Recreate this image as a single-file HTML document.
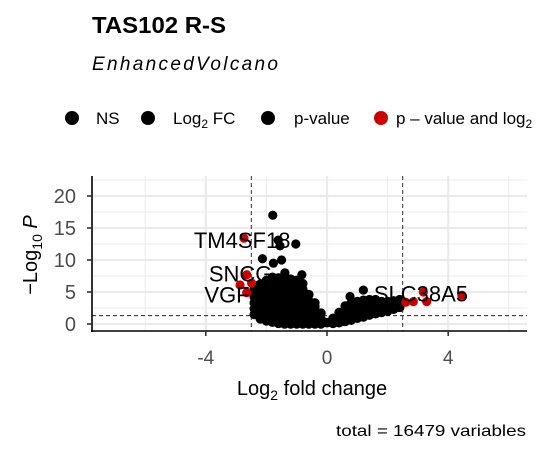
<!DOCTYPE html>
<html><head><meta charset="utf-8"><style>
body{margin:0;background:#fff;}
svg{display:block;font-family:"Liberation Sans",Arial,sans-serif;}
</style></head><body>
<svg id="chart" width="543" height="456" viewBox="0 0 543 456" xmlns="http://www.w3.org/2000/svg">
<text x="92" y="33" font-size="23" font-weight="bold" textLength="134" lengthAdjust="spacingAndGlyphs">TAS102 R-S</text>
<text x="92" y="70" font-size="19" font-style="italic" textLength="186">EnhancedVolcano</text>
<g font-size="17">
 <g><circle cx="72" cy="118" r="7" fill="#000"/><text x="96" y="124">NS</text></g>
 <g><circle cx="148" cy="118" r="7" fill="#000"/><text x="173" y="124">Log<tspan font-size="12" dy="4">2</tspan><tspan dy="-4"> FC</tspan></text></g>
 <g><circle cx="268" cy="118" r="7" fill="#000"/><text x="294" y="124">p-value</text></g>
 <g><circle cx="381" cy="118" r="7" fill="#cd0000"/><text x="396" y="124">p – value and log<tspan font-size="12" dy="4">2</tspan></text></g>
</g>
<g id="grid"></g>
<g id="refs"></g>
<g id="pts"></g>
<g id="labels" font-size="22"></g>
<g id="axes"></g>
<text x="312" y="395" font-size="20" text-anchor="middle">Log<tspan font-size="14" dy="5">2</tspan><tspan dy="-5"> fold change</tspan></text>
<text transform="translate(37,255) rotate(-90)" font-size="20" text-anchor="middle">−Log<tspan font-size="14" dy="5">10</tspan><tspan dy="-5" font-style="italic"> P</tspan></text>
<text x="336" y="436" font-size="16" textLength="190" lengthAdjust="spacingAndGlyphs">total = 16479 variables</text>
</svg>
<script>
const xTicks=[-4,0,4];
const xMinor=[-6,-2,2,6];
const yTicks=[0,5,10,15,20];
const yMinor=[2.5,7.5,12.5,17.5,22.5];
const fcCut=[-2.5,2.5];
const pCut=1.3;
const blobCols=[-2.4,-2.2,-2.0,-1.8,-1.6,-1.4,-1.2,-1.0,-0.8,-0.6,-0.4,-0.2,0,0.2,0.4,0.6,0.8,1.0,1.2,1.4,1.6,1.8,2.0,2.2,2.4];
const blobYs=[
[1.5,2.4,3.3,4.2,5.1,5.5],
[0.8,1.7,2.6,3.5,4.4,5.3,6.2],
[0.5,1.4,2.3,3.2,4.1,5.0,5.9,6.8],
[0.3,1.2,2.1,3.0,3.9,4.8,5.7,6.6,7.3],
[0.1,1.0,1.9,2.8,3.7,4.6,5.5,6.4,7.2],
[0,0.9,1.8,2.7,3.6,4.5,5.4,6.3,7.3],
[0,0.9,1.8,2.7,3.6,4.5,5.4,6.3,7.0],
[0,0.9,1.8,2.7,3.6,4.5,5.4,6.3,6.8],
[0,0.9,1.8,2.7,3.6,4.5,5.4,6.3],
[0,0.9,1.8,2.7,3.6,4.6],
[0,0.9,1.8,2.7,3.3],
[0,0.8,1.7],
[0.2],
[0.1,0.9],
[0.2,1.0,1.8],
[0.4,1.2,2.2,2.8],
[0.6,1.5,2.4,3.3],
[0.9,1.8,2.7,3.5],
[1.1,2.0,2.9,3.7],
[1.4,2.3,3.2,3.8],
[1.6,2.5,3.4,3.8],
[1.8,2.7,3.5],
[2.0,2.8,3.5],
[2.3,3.0,3.6],
[2.6,3.3,3.8]];
const outX=[-1.79,-1.61,-1.55,-1.03,-2.13,-1.77,-1.5,-1.39,-0.83,1.2,0.76,-2.3,-2.25];
const outY=[17.0,13.1,12.2,12.5,10.2,9.5,10.0,8.0,7.7,5.3,4.3,6.0,5.0];
const sigX=[-2.74,-2.65,-2.87,-2.49,-2.65,2.6,2.85,3.18,3.29,4.45];
const sigY=[13.4,7.7,6.1,6.4,4.9,3.4,3.5,5.0,3.5,4.5];
const labNames=["TM4SF18","SNCG","VGF","SLC38A5"];
const labX=[-2.8,-2.85,-3.3,3.1];
const labY=[13.1,7.9,4.6,4.8];

const X=v=>327+v*30.3, Y=v=>324-v*6.4;
const L=92,R=527,T=176,B=331;
const NS="http://www.w3.org/2000/svg";
function mk(p,tag,a){const e=document.createElementNS(NS,tag);for(const k in a)e.setAttribute(k,a[k]);p.appendChild(e);return e;}
const grid=document.getElementById('grid');
yMinor.forEach(v=>{if(Y(v)>T){const e=mk(grid,'line',{x1:L,x2:R,y1:Y(v),y2:Y(v),stroke:'#ebebeb','stroke-width':1});

}});
xMinor.forEach(v=>{const e=mk(grid,'line',{x1:X(v),x2:X(v),y1:T,y2:B,stroke:'#ebebeb','stroke-width':1});

});
yTicks.forEach(v=>{const e=mk(grid,'line',{x1:L,x2:R,y1:Y(v),y2:Y(v),stroke:'#ebebeb','stroke-width':2.2});

});
xTicks.forEach(v=>{const e=mk(grid,'line',{x1:X(v),x2:X(v),y1:T,y2:B,stroke:'#ebebeb','stroke-width':2.2});

});
const refs=document.getElementById('refs');
fcCut.forEach(v=>{const e=mk(refs,'line',{x1:X(v),x2:X(v),y1:T,y2:B,stroke:'#000','stroke-width':0.8,'stroke-dasharray':'4,3'});

});
{const e=mk(refs,'line',{x1:L,x2:R,y1:Y(pCut),y2:Y(pCut),stroke:'#000','stroke-width':0.8,'stroke-dasharray':'4,3'});

}
const pts=document.getElementById('pts');
blobCols.forEach((cx,i)=>blobYs[i].forEach(y=>{const e=mk(pts,'circle',{cx:X(cx),cy:Y(y),r:4.8,fill:'#000'});

}));
outX.forEach((x,i)=>{const e=mk(pts,'circle',{cx:X(x),cy:Y(outY[i]),r:4.6,fill:'#000'});

});
sigX.forEach((x,i)=>{const e=mk(pts,'circle',{cx:X(x),cy:Y(sigY[i]),r:4.6,fill:'#cd0000'});

});
const labs=document.getElementById('labels');
labNames.forEach((n,i)=>{const e=mk(labs,'text',{x:X(labX[i]),y:Y(labY[i])+8,'text-anchor':'middle'});e.textContent=n;

});
const ax=document.getElementById('axes');
mk(ax,'line',{x1:L,x2:L,y1:T,y2:B+1,stroke:'#000','stroke-width':1.6});
mk(ax,'line',{x1:L-1,x2:R,y1:B,y2:B,stroke:'#000','stroke-width':1.6});
yTicks.forEach(v=>{mk(ax,'line',{x1:L-5,x2:L,y1:Y(v),y2:Y(v),stroke:'#333','stroke-width':1.6});
const t=mk(ax,'text',{x:76,y:Y(v)+7,'text-anchor':'end','font-size':20,fill:'#4d4d4d'});t.textContent=v;

});
xTicks.forEach(v=>{mk(ax,'line',{x1:X(v),x2:X(v),y1:B,y2:B+5,stroke:'#333','stroke-width':1.6});
const t=mk(ax,'text',{x:X(v),y:364,'text-anchor':'middle','font-size':19,fill:'#4d4d4d'});t.textContent=(v<0?'-':'')+Math.abs(v);

});
</script>
</body></html>
